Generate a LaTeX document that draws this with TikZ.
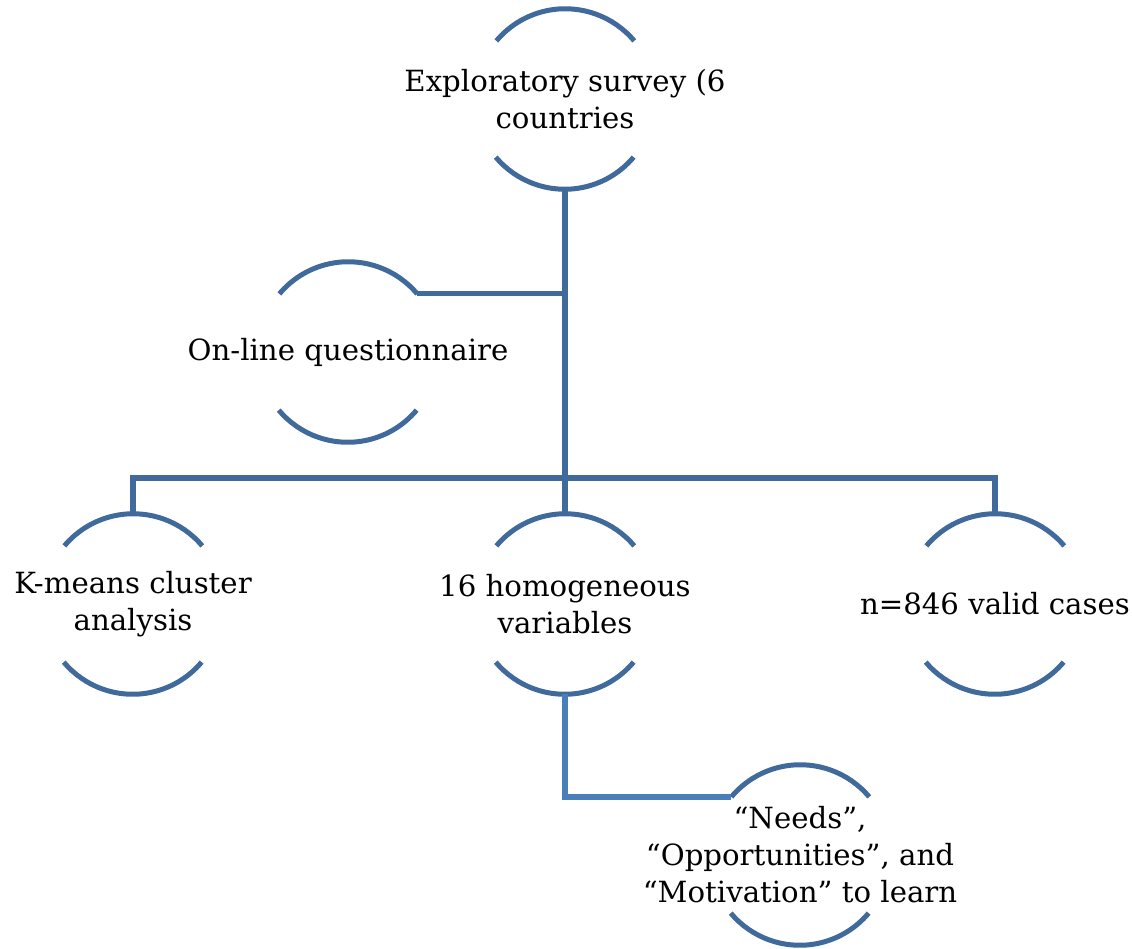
\documentclass[tikz,border=0pt]{standalone}
\usepackage{fontspec}
\setmainfont{DejaVu Serif}
\usepackage{tikz}
\usetikzlibrary{positioning}

\begin{document}
\begin{tikzpicture}[x=0.5pt,y=0.5pt,
    ring/.style={circle, minimum size=90pt, inner sep=0pt},
    every label/.style={align=center, font=\fontsize{14.6}{18.5}\selectfont, inner sep=0pt},
    rim/.style={line width=2.5pt, draw=linkblue},
    link/.style={line width=2.6pt, draw=linkblue},
    sublink/.style={line width=2.6pt, draw=lightblue}]
            % colours taken from the flow chart
            \definecolor{linkblue}{HTML}{40699C}
            \definecolor{lightblue}{HTML}{4A7EBB}
            \useasboundingbox (0,0) rectangle (1132,-949);
            \node[ring, label={center:{Exploratory survey (6\\countries}}] (survey) at (565,-99) {};
            \node[ring, label={center:{On-line questionnaire}}] (online) at (348,-352) {};
            \node[ring, label={center:{K-means cluster\\analysis}}] (kmeans) at (133,-604) {};
            \node[ring, label={center:{16 homogeneous\\variables}}] (homog) at (565,-604) {};
            \node[ring, label={center:{n=846 valid cases}}] (valid) at (995,-604) {};
            \node[ring, label={center:{``Needs'',\\``Opportunities'', and\\``Motivation'' to learn}}] (needs) at (800,-855) {};
            \coordinate (bar) at (565,-478);
            % the two arcs round every text
            \foreach \n in {survey,online,kmeans,homog,valid,needs} {
                \draw[rim] (\n.40) arc[start angle=40, end angle=140, radius=45pt];
                \draw[rim] (\n.220) arc[start angle=220, end angle=320, radius=45pt];
            }
            \draw[link] (survey.south) -- (homog.north);
            \draw[link] (online.40) -- (online.40 -| survey.south);
            \draw[link] (kmeans.north) |- (bar) -| (valid.north);
            \draw[sublink] (homog.south) |- (needs.140);
        \end{tikzpicture}
\end{document}
